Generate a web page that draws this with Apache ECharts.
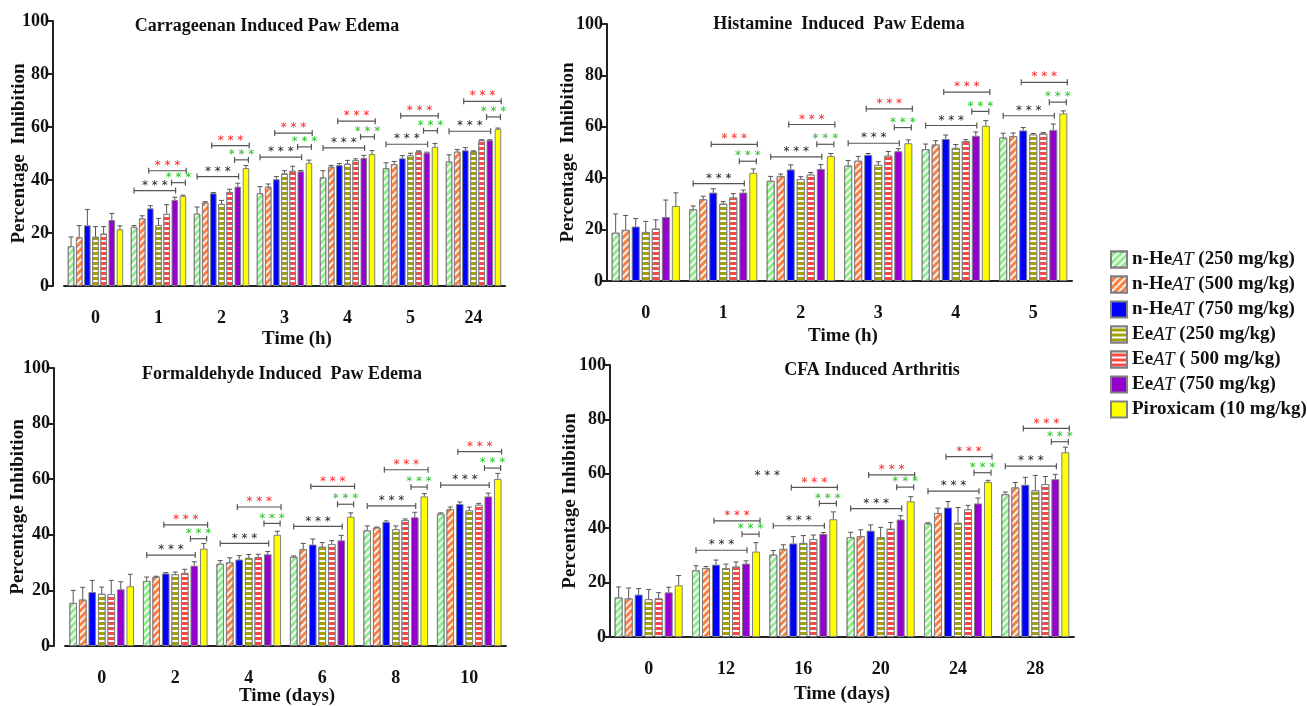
<!DOCTYPE html>
<html>
<head>
<meta charset="utf-8">
<script src="https://cdn.jsdelivr.net/npm/echarts@6/dist/echarts.min.js"></script>
<style>
html, body { margin: 0; padding: 0; background: #fff; }
#main { width: 1307px; height: 706px; }
</style>
</head>
<body>
<div id="main"></div>
<script>
// groups (legend order)
var groupNames = ['n-HeAT (250 mg/kg)', 'n-HeAT (500 mg/kg)', 'n-HeAT (750 mg/kg)',
	'EeAT (250 mg/kg)', 'EeAT ( 500 mg/kg)', 'EeAT (750 mg/kg)', 'Piroxicam (10 mg/kg)'];

// Carrageenan induced paw edema (one row per group)
var carrCats = ['0', '1', '2', '3', '4', '5', '24'];
var carrMean = [
	[15, 22.3, 27.3, 35, 41, 44.5, 47],
	[18.4, 25.5, 31.5, 37.5, 45, 46, 50.7],
	[22.9, 29.3, 35, 40.3, 45.6, 48.2, 51.2],
	[18.6, 23, 31, 42.5, 46.2, 49.3, 50.8],
	[19.8, 27.2, 35.5, 43.5, 47.5, 50.8, 55],
	[24.9, 32.5, 37.5, 43.3, 48.3, 50.3, 55],
	[21.4, 34, 44.5, 46.5, 49.8, 52.5, 59.3]
];
var carrErr = [
	[3.5, 0.5, 2.5, 2.5, 2.5, 2, 2.5],
	[4.4, 1, 0.3, 1, 0.5, 1, 0.8],
	[6, 1, 0.3, 1, 0.6, 1, 1],
	[3.8, 2.5, 1.3, 1, 1.2, 0.8, 0.2],
	[2.6, 3.5, 1, 1.7, 0.5, 0.2, 0.2],
	[2.5, 1, 1.3, 0.3, 1, 0.2, 0.2],
	[1.3, 0.3, 1, 1, 1.3, 1.3, 0.3]
];
// [category index, black bracket, red bracket, green bracket]
var carrSig = [[1, 36, 43.5, 39], [2, 41.3, 53, 47.6], [3, 48.6, 57.7, 52.5],
	[4, 52.1, 62.2, 56.3], [5, 53.5, 64.2, 58.6], [6, 58.4, 69.7, 63.8]];

// Histamine induced paw edema
var histCats = ['0', '1', '2', '3', '4', '5'];
var histMean = [
	[18.8, 27.9, 39, 44.9, 51.3, 55.8],
	[19.9, 31.8, 40.8, 46.8, 53.1, 56.4],
	[21.2, 34.4, 43.4, 49.1, 55.3, 58.6],
	[19.1, 30.1, 39.7, 45.2, 51.8, 57],
	[20.4, 32.5, 41.4, 48.8, 54.4, 57.4],
	[24.9, 34.4, 43.6, 50.5, 56.5, 58.8],
	[29.2, 42.1, 48.6, 53.6, 60.4, 65.2]
];
var histErr = [
	[7.3, 1.3, 1.7, 2, 2, 1.7],
	[5.6, 1.2, 0.8, 1.7, 1.5, 1.2],
	[3.1, 1.5, 1.8, 0.5, 1.5, 1.1],
	[4.1, 0.8, 0.9, 1.2, 1.3, 0.4],
	[3.4, 1.5, 0.8, 1.6, 0.6, 0.4],
	[6.6, 1, 1.7, 1, 1.5, 2.3],
	[5.1, 1.5, 1, 1.3, 2, 1]
];
var histSig = [[1, 37.9, 53.2, 46.6], [2, 48.3, 60.9, 53.2], [3, 53.6, 67, 59.7],
	[4, 60.5, 73.5, 66], [5, 64.3, 77.3, 69.6]];

// Formaldehyde induced paw edema
var formCats = ['0', '2', '4', '6', '8', '10'];
var formMean = [
	[15.5, 23.4, 29.6, 32.1, 41.6, 47.6],
	[16.7, 24.9, 30.1, 34.9, 42.6, 49.2],
	[19.4, 26.1, 31.1, 36.5, 44.6, 51.1],
	[18.8, 25.8, 31.7, 35.7, 42, 48.8],
	[18.7, 26.3, 32, 36.7, 45.3, 50.8],
	[20.4, 28.9, 33, 38, 46.3, 53.8],
	[21.5, 35, 40, 46.5, 53.8, 60.1]
];
var formErr = [
	[4.5, 1.4, 1.1, 0.3, 1.6, 0.3],
	[4.4, 0.2, 1.6, 2, 0.2, 0.8],
	[4.2, 0.3, 1.4, 2, 0.4, 0.7],
	[2.4, 0.8, 1.2, 1.5, 1.2, 1.2],
	[4.9, 1.3, 1, 1.2, 0.4, 0.5],
	[2.7, 1.4, 1, 1.8, 1.8, 1.2],
	[4.3, 1.9, 1.3, 1.4, 1, 2]
];
var formSig = [[1, 32.7, 43.6, 38.6], [2, 36.9, 50, 44.1], [3, 43, 57.4, 51],
	[4, 50.4, 63.4, 57.2], [5, 57.9, 69.9, 64]];

// CFA induced arthritis
var cfaCats = ['0', '12', '16', '20', '24', '28'];
var cfaMean = [
	[14.5, 24.5, 30.3, 36.7, 41.7, 52.5],
	[14.2, 25.3, 32.4, 37.1, 45.6, 55],
	[15.6, 26.6, 34.4, 39.1, 47.6, 56],
	[13.9, 25.3, 34.6, 36.7, 42, 53.9],
	[14.2, 25.9, 36, 39.8, 46.9, 56.2],
	[16.4, 27, 37.9, 43.2, 49.1, 58],
	[19, 31.4, 43.3, 49.9, 57, 67.9]
];
var cfaErr = [
	[3.9, 1.7, 1.5, 1.8, 0.3, 0.8],
	[3.8, 0.6, 1.5, 2.3, 1.8, 1.8],
	[2.2, 1.7, 2.5, 2.1, 2.2, 2.7],
	[3.6, 1.5, 2.7, 3.6, 5.6, 5.5],
	[2.1, 1.7, 1.5, 2.3, 1.5, 2.8],
	[1.9, 1, 0.5, 1.4, 2, 1.8],
	[3.6, 3.3, 2.7, 1.7, 0.6, 1.9]
];
var cfaSig = [[1, 31.9, 42.7, 37.8], [2, 40.9, 55, 49.1], [3, 47.2, 59.6, 55.1],
	[4, 53.6, 66.3, 60.4], [5, 62.8, 76.7, 71.8]];
var cfaLoneStars = [[2, 59.3]];

var SERIF = '"Liberation Serif", "Times New Roman", serif';
var CAT_GAP = 0.12, BAR_GAP = 0.25;

var diag = { symbol: 'rect', symbolSize: 1, color: 'rgba(255,255,255,0.9)', dashArrayX: [1, 0], dashArrayY: [1.5, 2.5], rotation: -Math.PI / 4 };
var horiz = { symbol: 'rect', symbolSize: 1, color: '#ffffff', dashArrayX: [1, 0], dashArrayY: [1.6, 2.2], rotation: 0 };
var barStyles = [
	{ color: '#8fec8f', decal: diag },
	{ color: '#ff7f3f', decal: diag },
	{ color: '#0000ff' },
	{ color: '#a3a300', decal: horiz },
	{ color: '#ff4646', decal: horiz },
	{ color: '#9400cc' },
	{ color: '#ffff00' }
];

var panels = [
	{ title: 'Carrageenan Induced Paw Edema', xName: 'Time (h)', yName: 'Percentage  Inhibition',
		cats: carrCats, mean: carrMean, err: carrErr, sig: carrSig,
		grid: { left: 64, top: 21, width: 441, height: 265 }, yOffset: 11, nameGap: 24,
		titlePos: [267, 17], xNamePos: [297, 330] },
	{ title: 'Histamine  Induced  Paw Edema', xName: 'Time (h)', yName: 'Percentage  Inhibition',
		cats: histCats, mean: histMean, err: histErr, sig: histSig,
		grid: { left: 607, top: 24, width: 465, height: 257 }, yOffset: 0, nameGap: 29,
		titlePos: [839, 15], xNamePos: [843, 327] },
	{ title: 'Formaldehyde Induced  Paw Edema', xName: 'Time (days)', yName: 'Percentage Inhibition',
		cats: formCats, mean: formMean, err: formErr, sig: formSig,
		grid: { left: 65, top: 368, width: 441, height: 278 }, yOffset: 11, nameGap: 26,
		titlePos: [282, 365], xNamePos: [287, 687] },
	{ title: 'CFA Induced Arthritis', xName: 'Time (days)', yName: 'Percentage Inhibition',
		cats: cfaCats, mean: cfaMean, err: cfaErr, sig: cfaSig,
		grid: { left: 610, top: 365, width: 464, height: 272 }, yOffset: 0, nameGap: 30,
		titlePos: [872, 361], xNamePos: [842, 685] }
];

// centre of bar k inside category cat, same layout rule as the bar series
function barCenter(api, cat, k) {
	var band = api.size([1, 0])[0];
	var w = band * (1 - CAT_GAP) / (7 + 6 * BAR_GAP);
	var total = 7 * w + 6 * w * BAR_GAP;
	return api.coord([cat, 0])[0] - total / 2 + k * w * (1 + BAR_GAP) + w / 2;
}

function renderErr(params, api) {
	var cat = api.value(0), k = api.value(1), m = api.value(2), e = api.value(3);
	var x = barCenter(api, cat, k);
	var y0 = api.coord([cat, m])[1];
	var y1 = api.coord([cat, m + e])[1];
	var st = { stroke: '#555', lineWidth: 1 };
	return { type: 'group', children: [
		{ type: 'line', shape: { x1: x, y1: y0, x2: x, y2: y1 }, style: st },
		{ type: 'line', shape: { x1: x - 2.5, y1: y1, x2: x + 2.5, y2: y1 }, style: st }
	] };
}

var SPANS = [[0, 5.1, '#222'], [1.8, 6.4, '#ff1e1e'], [4.6, 6.3, '#22c322']];

function starText(x, y, color) {
	return { type: 'text', x: x, y: y, style: { text: '* * *', fill: color, font: '12px "DejaVu Sans", sans-serif',
		align: 'center', verticalAlign: 'bottom' } };
}

function renderSig(params, api) {
	var cat = api.value(0);
	var kids = [];
	for (var s = 0; s < 3; s++) {
		var y = api.coord([cat, api.value(s + 1)])[1];
		var xa = barCenter(api, cat, SPANS[s][0]);
		var xb = barCenter(api, cat, SPANS[s][1]);
		var st = { stroke: '#555', lineWidth: 1.2 };
		kids.push({ type: 'line', shape: { x1: xa, y1: y, x2: xb, y2: y }, style: st });
		kids.push({ type: 'line', shape: { x1: xa, y1: y - 3, x2: xa, y2: y + 3 }, style: st });
		kids.push({ type: 'line', shape: { x1: xb, y1: y - 3, x2: xb, y2: y + 3 }, style: st });
		kids.push(starText((xa + xb) / 2, y + 1, SPANS[s][2]));
	}
	return { type: 'group', children: kids };
}

function renderLone(params, api) {
	var cat = api.value(0);
	var y = api.coord([cat, api.value(1)])[1];
	return starText(barCenter(api, cat, -0.6), y + 6, '#222');
}

var boldText = { fontFamily: SERIF, fontWeight: 'bold', fontSize: 18, color: '#111' };

var grids = [], xAxes = [], yAxes = [], series = [], titles = [];
panels.forEach(function (p, pi) {
	grids.push(p.grid);
	titles.push({ text: p.title, left: p.titlePos[0], top: p.titlePos[1], textAlign: 'center', padding: 0,
		textStyle: boldText });
	titles.push({ text: p.xName, left: p.xNamePos[0], top: p.xNamePos[1], textAlign: 'center', padding: 0,
		textStyle: { fontFamily: SERIF, fontWeight: 'bold', fontSize: 19, color: '#111' } });
	xAxes.push({
		gridIndex: pi, type: 'category', data: p.cats, offset: 14,
		axisLine: { lineStyle: { color: '#222', width: 2 } },
		axisTick: { alignWithLabel: true, length: 5, lineStyle: { color: '#222', width: 2 } },
		axisLabel: { margin: 9, fontFamily: SERIF, fontWeight: 'bold', fontSize: 18, color: '#111' }
	});
	yAxes.push({
		gridIndex: pi, type: 'value', min: 0, max: 100, interval: 20, offset: p.yOffset,
		name: p.yName, nameLocation: 'middle', nameGap: p.nameGap, nameMoveOverlap: false,
		nameTextStyle: { fontFamily: SERIF, fontWeight: 'bold', fontSize: 19, color: '#111' },
		axisLine: { show: true, lineStyle: { color: '#222', width: 2 } },
		axisTick: { show: true, length: 5, lineStyle: { color: '#222', width: 2 } },
		splitLine: { show: false },
		axisLabel: { margin: 4, fontFamily: SERIF, fontWeight: 'bold', fontSize: 18, color: '#111' }
	});
	var errData = [];
	for (var k = 0; k < 7; k++) {
		series.push({
			name: groupNames[k], type: 'bar', xAxisIndex: pi, yAxisIndex: pi,
			data: p.mean[k], barGap: (BAR_GAP * 100) + '%', barCategoryGap: (CAT_GAP * 100) + '%',
			itemStyle: Object.assign({ borderColor: '#808080', borderWidth: 1 }, barStyles[k])
		});
		for (var c = 0; c < p.cats.length; c++) {
			errData.push([c, k, p.mean[k][c], p.err[k][c]]);
		}
	}
	series.push({ type: 'custom', xAxisIndex: pi, yAxisIndex: pi, renderItem: renderErr,
		encode: { x: 0, y: 2 }, data: errData, z: 3, silent: true });
	series.push({ type: 'custom', xAxisIndex: pi, yAxisIndex: pi, renderItem: renderSig,
		encode: { x: 0, y: 1 }, data: p.sig, z: 4, silent: true });
});
series.push({ type: 'custom', xAxisIndex: 3, yAxisIndex: 3, renderItem: renderLone,
	encode: { x: 0, y: 1 }, data: cfaLoneStars, z: 4, silent: true });

var chart = echarts.init(document.getElementById('main'));
chart.setOption({
	animation: false,
	backgroundColor: '#fff',
	title: titles,
	grid: grids,
	xAxis: xAxes,
	yAxis: yAxes,
	legend: {
		orient: 'vertical', left: 1105, top: 245, icon: 'rect',
		itemWidth: 16, itemHeight: 16, itemGap: 6, selectedMode: false,
		data: groupNames,
		formatter: function (name) {
			return '{b|' + name.replace('AT', '}{i|AT}{b|') + '}';
		},
		textStyle: {
			rich: {
				b: { fontFamily: SERIF, fontWeight: 'bold', fontSize: 19, lineHeight: 18, color: '#111' },
				i: { fontFamily: SERIF, fontStyle: 'italic', fontSize: 19, lineHeight: 18, color: '#111' }
			}
		}
	},
	series: series
});
</script>
</body>
</html>
